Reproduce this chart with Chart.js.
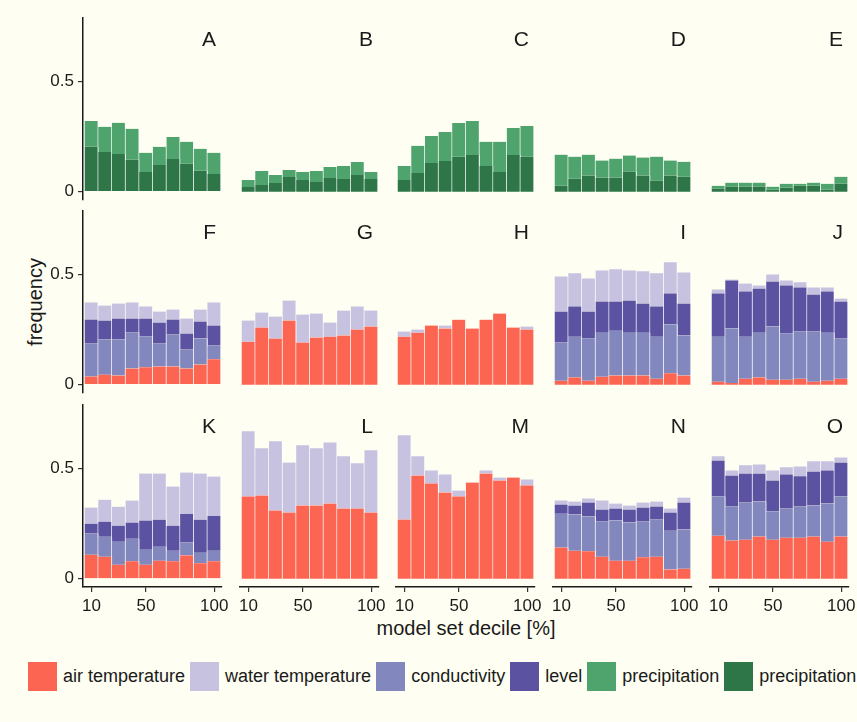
<!DOCTYPE html>
<html>
<head>
<meta charset="utf-8">
<script src="https://cdn.jsdelivr.net/npm/chart.js@4.4.1/dist/chart.umd.min.js"></script>
<style>
  html, body { margin: 0; padding: 0; }
  body { width: 857px; height: 722px; background: #fefef2; overflow: hidden; }
  #fig { position: relative; width: 857px; height: 722px; font-family: "Liberation Sans", Arial, sans-serif; color: #1a1a1a; }
  #fig canvas { display: block; }
  .ytitle { position: absolute; left: 35px; top: 302px; font-size: 20px; transform: translate(-50%, -50%) rotate(-90deg); white-space: nowrap; }
  .xtitle { position: absolute; left: 466px; top: 618px; font-size: 20px; transform: translateX(-50%); white-space: nowrap; line-height: 20px; }
  #legend { position: absolute; left: 28px; top: 662px; display: flex; align-items: center; font-size: 18px; white-space: nowrap; }
  #legend .sw { width: 29px; height: 29px; margin-right: 6px; }
  #legend .lab { margin-right: 5px; }
</style>
</head>
<body>
<div id="fig">
  <div class="ytitle">frequency</div>
  <div class="xtitle">model set decile [%]</div>
  <div id="legend"></div>
</div>
<script>
// deciles on the x axis, one bar each
const deciles = [10, 20, 30, 40, 50, 60, 70, 80, 90, 100];
const xTicks = [10, 50, 100];
const yTicks = [0, 0.5];
const panelLetters = ['A', 'B', 'C', 'D', 'E', 'F', 'G', 'H', 'I', 'J', 'K', 'L', 'M', 'N', 'O'];

// top row: two precipitation parts, darker one at the bottom of the stack
const precipDark = {
  A: [0.203, 0.180, 0.171, 0.144, 0.089, 0.121, 0.148, 0.126, 0.094, 0.080],
  B: [0.021, 0.030, 0.039, 0.067, 0.053, 0.044, 0.062, 0.058, 0.076, 0.058],
  C: [0.053, 0.085, 0.130, 0.139, 0.158, 0.167, 0.117, 0.089, 0.167, 0.158],
  D: [0.027, 0.059, 0.073, 0.064, 0.064, 0.091, 0.073, 0.050, 0.073, 0.068],
  E: [0.014, 0.023, 0.023, 0.023, 0.009, 0.018, 0.027, 0.027, 0.009, 0.036]
};
const precipLight = {
  A: [0.118, 0.114, 0.141, 0.141, 0.087, 0.082, 0.100, 0.100, 0.100, 0.096],
  B: [0.032, 0.064, 0.037, 0.031, 0.036, 0.050, 0.050, 0.059, 0.059, 0.031],
  C: [0.064, 0.123, 0.123, 0.132, 0.154, 0.154, 0.109, 0.137, 0.122, 0.140],
  D: [0.141, 0.100, 0.095, 0.077, 0.086, 0.073, 0.082, 0.109, 0.068, 0.068],
  E: [0.013, 0.018, 0.018, 0.018, 0.014, 0.018, 0.009, 0.014, 0.027, 0.032]
};

// rows two and three, stacked bottom to top: air, conductivity, level, water
const airTemperature = {
  F: [0.036, 0.045, 0.041, 0.073, 0.079, 0.082, 0.082, 0.073, 0.091, 0.115],
  G: [0.195, 0.259, 0.209, 0.291, 0.191, 0.214, 0.218, 0.223, 0.250, 0.264],
  H: [0.218, 0.236, 0.268, 0.255, 0.295, 0.255, 0.295, 0.323, 0.259, 0.250],
  I: [0.018, 0.033, 0.018, 0.036, 0.042, 0.042, 0.042, 0.027, 0.052, 0.042],
  J: [0.014, 0.008, 0.027, 0.033, 0.023, 0.023, 0.027, 0.014, 0.018, 0.027],
  K: [0.109, 0.100, 0.064, 0.079, 0.064, 0.082, 0.079, 0.106, 0.070, 0.079],
  L: [0.373, 0.377, 0.309, 0.300, 0.332, 0.332, 0.341, 0.318, 0.318, 0.300],
  M: [0.268, 0.468, 0.432, 0.391, 0.373, 0.436, 0.477, 0.445, 0.459, 0.423],
  N: [0.141, 0.127, 0.124, 0.100, 0.082, 0.082, 0.097, 0.100, 0.042, 0.045],
  O: [0.195, 0.173, 0.177, 0.191, 0.177, 0.186, 0.186, 0.191, 0.168, 0.191]
};
const conductivity = {
  F: [0.150, 0.160, 0.164, 0.163, 0.139, 0.104, 0.145, 0.086, 0.118, 0.062],
  I: [0.173, 0.185, 0.191, 0.200, 0.203, 0.194, 0.194, 0.191, 0.221, 0.181],
  J: [0.204, 0.247, 0.191, 0.203, 0.241, 0.209, 0.214, 0.227, 0.218, 0.182],
  K: [0.096, 0.091, 0.104, 0.103, 0.068, 0.063, 0.048, 0.058, 0.048, 0.048],
  N: [0.154, 0.164, 0.158, 0.159, 0.182, 0.173, 0.162, 0.168, 0.176, 0.178],
  O: [0.178, 0.154, 0.168, 0.159, 0.128, 0.132, 0.141, 0.141, 0.173, 0.182]
};
const level = {
  F: [0.109, 0.086, 0.095, 0.064, 0.082, 0.096, 0.068, 0.073, 0.077, 0.091],
  I: [0.141, 0.137, 0.123, 0.141, 0.132, 0.146, 0.132, 0.137, 0.141, 0.145],
  J: [0.196, 0.218, 0.205, 0.200, 0.204, 0.218, 0.200, 0.168, 0.187, 0.168],
  K: [0.045, 0.068, 0.073, 0.073, 0.132, 0.123, 0.114, 0.131, 0.150, 0.159],
  N: [0.041, 0.041, 0.063, 0.055, 0.054, 0.059, 0.064, 0.059, 0.082, 0.122],
  O: [0.163, 0.141, 0.132, 0.127, 0.140, 0.155, 0.137, 0.154, 0.150, 0.154]
};
const waterTemperature = {
  F: [0.078, 0.068, 0.068, 0.073, 0.055, 0.050, 0.046, 0.068, 0.055, 0.105],
  G: [0.096, 0.068, 0.100, 0.091, 0.127, 0.109, 0.064, 0.113, 0.105, 0.072],
  H: [0.023, 0.014, 0.000, 0.013, 0.000, 0.000, 0.000, 0.000, 0.000, 0.014],
  I: [0.159, 0.150, 0.150, 0.141, 0.146, 0.136, 0.146, 0.150, 0.141, 0.141],
  J: [0.018, 0.004, 0.036, 0.014, 0.032, 0.023, 0.023, 0.032, 0.018, 0.014],
  K: [0.073, 0.100, 0.086, 0.100, 0.213, 0.209, 0.177, 0.187, 0.209, 0.178],
  L: [0.295, 0.214, 0.314, 0.227, 0.273, 0.259, 0.277, 0.237, 0.205, 0.282],
  M: [0.382, 0.087, 0.059, 0.082, 0.027, 0.000, 0.014, 0.014, 0.000, 0.027],
  N: [0.019, 0.018, 0.019, 0.041, 0.023, 0.018, 0.022, 0.023, 0.018, 0.023],
  O: [0.019, 0.023, 0.037, 0.041, 0.046, 0.032, 0.045, 0.046, 0.041, 0.023]
};

const colors = {
  air: '#fc6552',
  water: '#c7c2df',
  cond: '#8288bd',
  level: '#5b53a2',
  precipLight: '#4fa36c',
  precipDark: '#2e7548'
};

const FONT = '"Liberation Sans", Arial, sans-serif';
const INK = '#1a1a1a';

// panel grid geometry (plot area of each facet)
const colX = [83, 240, 396, 553, 710];
const rowY = [18, 211, 405];
const PLOT_W = 139, PLOT_H = 182;
const Y_AXIS_W = 62, X_AXIS_H = 40, PAD = 14;

// legend
const legendItems = [
  ['air temperature', colors.air],
  ['water temperature', colors.water],
  ['conductivity', colors.cond],
  ['level', colors.level],
  ['precipitation', colors.precipLight],
  ['precipitation', colors.precipDark]
];
const legendEl = document.getElementById('legend');
legendItems.forEach(([name, col]) => {
  legendEl.insertAdjacentHTML('beforeend',
    '<div class="sw" style="background:' + col + '"></div><div class="lab">' + name + '</div>');
});

// letter in the top right corner of each facet
const panelLabel = {
  id: 'panelLabel',
  afterDraw(chart, args, opts) {
    const {ctx, chartArea} = chart;
    ctx.save();
    ctx.font = '21px ' + FONT;
    ctx.fillStyle = INK;
    ctx.textAlign = 'right';
    ctx.textBaseline = 'alphabetic';
    ctx.fillText(opts.text, chartArea.right - 6, chartArea.top + 28);
    ctx.restore();
  }
};

function series(label, data, color) {
  return {
    label: label,
    data: data,
    backgroundColor: color,
    borderColor: '#ffffff',
    borderWidth: {left: 0, right: 1, top: 0, bottom: 0},
    borderSkipped: false,
    barPercentage: 1,
    categoryPercentage: 1
  };
}

function buildPanel(letter, idx) {
  const r = Math.floor(idx / 5), c = idx % 5;
  const showY = c === 0, showX = r === 2;

  let datasets;
  if (r === 0) {
    datasets = [
      series('precipitation', precipDark[letter], colors.precipDark),
      series('precipitation', precipLight[letter], colors.precipLight)
    ];
  } else {
    datasets = [series('air temperature', airTemperature[letter], colors.air)];
    if (conductivity[letter]) datasets.push(series('conductivity', conductivity[letter], colors.cond));
    if (level[letter]) datasets.push(series('level', level[letter], colors.level));
    datasets.push(series('water temperature', waterTemperature[letter], colors.water));
  }

  const w = PAD + (showY ? Y_AXIS_W : 0) + PLOT_W + PAD;
  const h = PAD + PLOT_H + (showX ? X_AXIS_H : PAD);
  const box = document.createElement('div');
  box.style.cssText = 'position:absolute;left:' + (colX[c] - PAD - (showY ? Y_AXIS_W : 0)) +
    'px;top:' + (rowY[r] - PAD) + 'px;width:' + w + 'px;height:' + h + 'px';
  const canvas = document.createElement('canvas');
  box.appendChild(canvas);
  document.getElementById('fig').appendChild(box);

  new Chart(canvas, {
    type: 'bar',
    data: {labels: deciles, datasets: datasets},
    options: {
      responsive: true,
      maintainAspectRatio: false,
      animation: false,
      events: [],
      layout: {padding: {top: PAD, left: PAD, right: PAD, bottom: showX ? 0 : PAD}},
      plugins: {
        legend: {display: false},
        tooltip: {enabled: false},
        panelLabel: {text: letter}
      },
      scales: {
        x: {
          type: 'linear',
          stacked: true,
          offset: false,
          min: 3.8,
          max: 105.7,
          display: showX,
          afterFit: s => { s.height = showX ? X_AXIS_H : 0; },
          afterBuildTicks: s => { s.ticks = xTicks.map(v => ({value: v})); },
          grid: {drawOnChartArea: false, drawTicks: true, tickLength: 5, color: '#333', lineWidth: 1.2, offset: false},
          border: {display: true, color: INK, width: 1.5},
          ticks: {padding: 4, color: INK, font: {family: FONT, size: 17}, maxRotation: 0, callback: v => String(v)}
        },
        y: {
          stacked: true,
          min: -0.0375,
          max: 0.7875,
          display: showY,
          afterFit: s => { s.width = showY ? Y_AXIS_W : 0; },
          afterBuildTicks: s => { s.ticks = yTicks.map(v => ({value: v})); },
          grid: {drawOnChartArea: false, drawTicks: true, tickLength: 5, color: '#333', lineWidth: 1.2},
          border: {display: true, color: INK, width: 1.5},
          ticks: {padding: 4, color: INK, font: {family: FONT, size: 17}, callback: v => String(v)}
        }
      }
    },
    plugins: [panelLabel]
  });
}

panelLetters.forEach(buildPanel);
</script>
</body>
</html>
